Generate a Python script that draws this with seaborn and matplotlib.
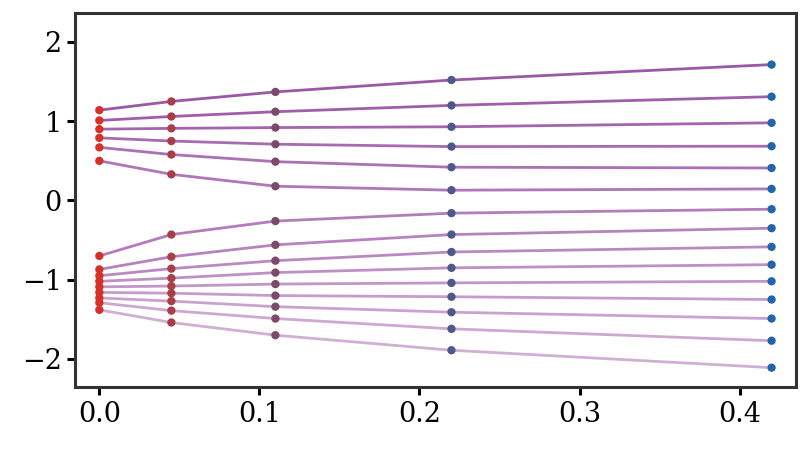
import numpy as np
import pandas as pd
import matplotlib
matplotlib.use("Agg")
import matplotlib.pyplot as plt
import seaborn as sns

# x positions shared by every trajectory
steps = [0.0, 0.045, 0.11, 0.22, 0.42]

# one row per trajectory (top to bottom)
traj_vals = [
    [1.14, 1.25, 1.37, 1.52, 1.715],
    [1.01, 1.06, 1.12, 1.20, 1.31],
    [0.90, 0.91, 0.92, 0.93, 0.98],
    [0.79, 0.75, 0.71, 0.68, 0.685],
    [0.67, 0.58, 0.49, 0.42, 0.41],
    [0.50, 0.33, 0.18, 0.13, 0.146],
    [-0.70, -0.43, -0.26, -0.16, -0.11],
    [-0.87, -0.71, -0.56, -0.43, -0.35],
    [-0.95, -0.86, -0.76, -0.65, -0.585],
    [-1.02, -0.98, -0.91, -0.85, -0.81],
    [-1.09, -1.08, -1.055, -1.04, -1.02],
    [-1.16, -1.17, -1.20, -1.215, -1.25],
    [-1.23, -1.27, -1.34, -1.41, -1.49],
    [-1.29, -1.39, -1.49, -1.62, -1.77],
    [-1.38, -1.54, -1.70, -1.89, -2.11],
]

start_color = "#d73027"
end_color = "#2166ac"
line_color = "#984ea3"

rows = []
for i, vals in enumerate(traj_vals):
    for j, (x, y) in enumerate(zip(steps, vals)):
        rows.append({"traj": i, "step": j, "x": x, "y": y})
df = pd.DataFrame(rows)

sns.set_theme(style="ticks")
plt.rcParams["font.family"] = ["DejaVu Serif"]
plt.rcParams["axes.unicode_minus"] = True

fig, ax = plt.subplots(figsize=(8.1, 4.49), dpi=100)

n = len(traj_vals)
alphas = np.linspace(0.95, 0.45, n)
for i in range(n):
    sub = df[df["traj"] == i]
    sns.lineplot(data=sub, x="x", y="y", color=line_color, alpha=alphas[i],
                 lw=2, ax=ax, zorder=1)

pal = sns.blend_palette([start_color, end_color], len(steps))
sns.scatterplot(data=df, x="x", y="y", hue="step", palette=pal, s=36,
                edgecolor="none", legend=False, ax=ax, zorder=3)

ax.set_xlim(-0.0152, 0.4354)
ax.set_ylim(-2.36, 2.36)
ax.set_xticks([0.0, 0.1, 0.2, 0.3, 0.4])
ax.set_yticks([-2, -1, 0, 1, 2])
ax.set_xlabel("")
ax.set_ylabel("")
for s in ax.spines.values():
    s.set_linewidth(2.2)
    s.set_color("#333333")
ax.tick_params(axis="both", labelsize=19.5, width=2.2, length=6, color="black",
               labelcolor="black")

fig.subplots_adjust(left=0.0926, right=0.983, top=0.970, bottom=0.137)
fig.savefig("out.png", dpi=100)
